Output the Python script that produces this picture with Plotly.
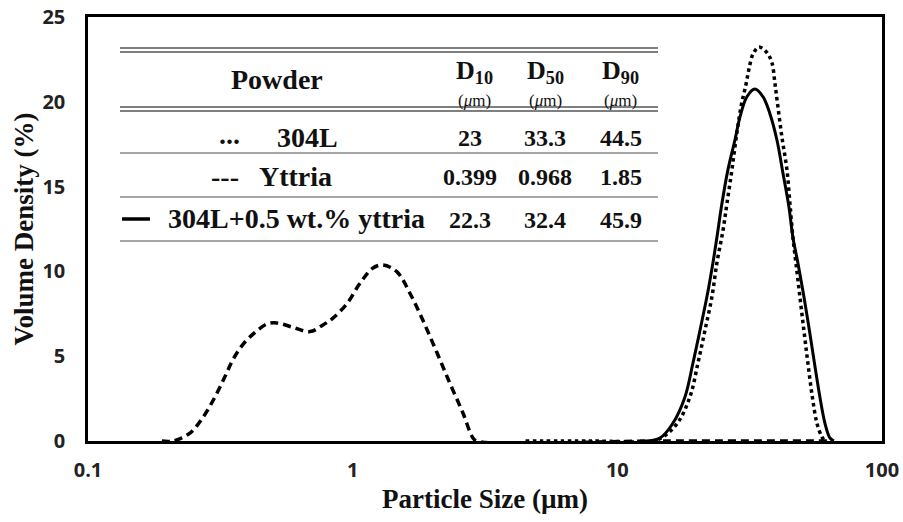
import plotly.graph_objects as go

# ---------------- data ----------------
yttria_size = [0.19, 0.2095, 0.2428, 0.2720, 0.3019, 0.3294, 0.3530, 0.3851, 0.4275, 0.4745,
               0.5176, 0.5951, 0.6899, 0.7722, 0.8424, 0.9516, 1.066, 1.193, 1.302, 1.471,
               1.647, 1.844, 2.083, 2.331, 2.610, 2.848, 2.95, 15.0, 65.0]
yttria_vd = [0, 0, 0.47, 1.4, 2.6, 3.8, 4.8, 5.7, 6.4, 6.9,
             6.96, 6.7, 6.45, 6.84, 7.25, 8.1, 9.3, 10.2, 10.38, 9.97,
             8.7, 7.1, 5.2, 3.4, 1.65, 0.18, 0, 0, 0]

s304_size = [4.5, 8.0, 13.63, 14.87, 16.95, 18.81, 20.17, 21.42, 22.77, 23.78,
             25.06, 25.95, 27.10, 28.31, 29.4, 30.6, 31.4, 32.53, 34.28, 36.74,
             38.38, 39.39, 40.44, 41.88, 43.73, 44.89, 46.07, 47.29, 48.96, 50.7,
             52.48, 54.55, 56.75, 59.28, 60.85]
s304_vd = [0, 0, 0, 0.24, 1.1, 2.6, 4.6, 6.5, 8.5, 10.5,
           12.4, 14.0, 16.0, 18.2, 19.8, 21.0, 21.9, 22.8, 23.23, 22.9,
           22.3, 21.1, 19.7, 17.9, 16.0, 14.0, 12.0, 10.5, 8.5, 6.5,
           4.6, 2.6, 1.06, 0.24, 0]

mix_size = [12.17, 14.49, 16.23, 18.01, 19.31, 20.51, 21.80, 22.97, 23.78, 24.84,
            26.18, 27.82, 29.06, 30.88, 33.10, 35.49, 37.71, 40.09, 42.24, 44.50,
            46.07, 48.12, 50.7, 53.2, 55.55, 58.25, 60.85, 63.56, 65.8]
mix_vd = [0, 0.18, 1.06, 2.6, 4.6, 6.5, 8.5, 10.5, 12.0, 14.0,
          16.0, 17.75, 19.1, 20.3, 20.75, 20.3, 19.3, 17.75, 15.8, 13.8,
          12.0, 10.5, 8.5, 6.5, 4.6, 2.6, 1.06, 0.18, 0]

x_ticks = [0.1, 1, 10, 100]
x_ticktext = ["0.1", "1", "10", "100"]
y_ticks = [0, 5, 10, 15, 20, 25]

table_header = ["Powder", "D<sub>10</sub>", "D<sub>50</sub>", "D<sub>90</sub>"]
table_marks = ["...", "---", ""]
table_names = ["304L", "Yttria", "304L+0.5 wt.% yttria"]
d10 = ["23", "0.399", "22.3"]
d50 = ["33.3", "0.968", "32.4"]
d90 = ["44.5", "1.85", "45.9"]

# ---------------- figure ----------------
fig = go.Figure()
fig.add_trace(go.Scatter(x=yttria_size, y=yttria_vd, mode="lines", line_shape="spline",
                         line=dict(color="black", width=3.5, dash="8px,5px"), showlegend=False))
fig.add_trace(go.Scatter(x=s304_size, y=s304_vd, mode="lines", line_shape="spline",
                         line=dict(color="black", width=3.5, dash="dot"), showlegend=False))
fig.add_trace(go.Scatter(x=mix_size, y=mix_vd, mode="lines", line_shape="spline",
                         line=dict(color="black", width=3), showlegend=False))

W, H = 903, 522
L, R, T, B = 88, 882, 17, 441


def px(x):
    return (x - L) / (R - L)


def py(y):
    return (B - y) / (B - T)


SERIF = "Liberation Serif"
shapes = []
# table lines
for y in (48, 52, 107, 111):
    shapes.append(dict(type="line", xref="paper", yref="paper", x0=px(120), x1=px(658),
                       y0=py(y), y1=py(y), line=dict(color="#555", width=1.6)))
for y in (153, 197, 241):
    shapes.append(dict(type="line", xref="paper", yref="paper", x0=px(120), x1=px(658),
                       y0=py(y), y1=py(y), line=dict(color="#888", width=1.6)))
# solid legend mark
shapes.append(dict(type="line", xref="paper", yref="paper", x0=px(122), x1=px(150),
                   y0=py(219), y1=py(219), line=dict(color="black", width=3.5)))

ann = []


def text(x, y, s, size=28, bold=True):
    ann.append(dict(x=px(x), y=py(y), xref="paper", yref="paper", text=("<b>%s</b>" % s) if bold else s,
                    showarrow=False, xanchor="center", yanchor="middle",
                    font=dict(family=SERIF, size=size, color="#111")))


text(277, 79, table_header[0])
hx = [474, 545, 620]
for i in range(3):
    text(hx[i], 72, table_header[i + 1], size=26)
    text(hx[i], 100, "(<i>μ</i>m)", size=17, bold=False)

row_y = [137, 176, 219]
mark_x = [229, 225]
name_x = [307, 295, 296]
for i in range(3):
    if table_marks[i]:
        text(mark_x[i], row_y[i] - (3 if i == 0 else 0), table_marks[i])
    text(name_x[i], row_y[i], table_names[i])
    text(470, row_y[i] + 1, d10[i], size=24)
    text(545, row_y[i] + 1, d50[i], size=24)
    text(621, row_y[i] + 1, d90[i], size=24)

fig.update_layout(
    width=W, height=H,
    margin=dict(l=L, r=W - R, t=T, b=H - B),
    paper_bgcolor="white", plot_bgcolor="white",
    shapes=shapes, annotations=ann,
    xaxis=dict(type="log", range=[-1, 2], tickvals=x_ticks, ticktext=x_ticktext,
               automargin=False,
               showgrid=False, zeroline=False, showline=True, mirror=True,
               linecolor="black", linewidth=2.5, ticks="", ticklabelstandoff=9,
               tickfont=dict(family="Open Sans", size=20, color="#222", weight="bold"),
               title=dict(text="<b>Particle Size (µm)</b>", standoff=8,
                          font=dict(family=SERIF, size=27, color="#111"))),
    yaxis=dict(range=[0, 25], tickvals=y_ticks, automargin=False,
               showgrid=False, zeroline=False, showline=True, mirror=True,
               linecolor="black", linewidth=2.5, ticks="", ticklabelstandoff=16,
               tickfont=dict(family="Open Sans", size=20, color="#222", weight="bold"),
               title=dict(text="<b>Volume Density (%)</b>", standoff=1,
                          font=dict(family=SERIF, size=27, color="#111"))),
)

fig.write_html("out.html")
